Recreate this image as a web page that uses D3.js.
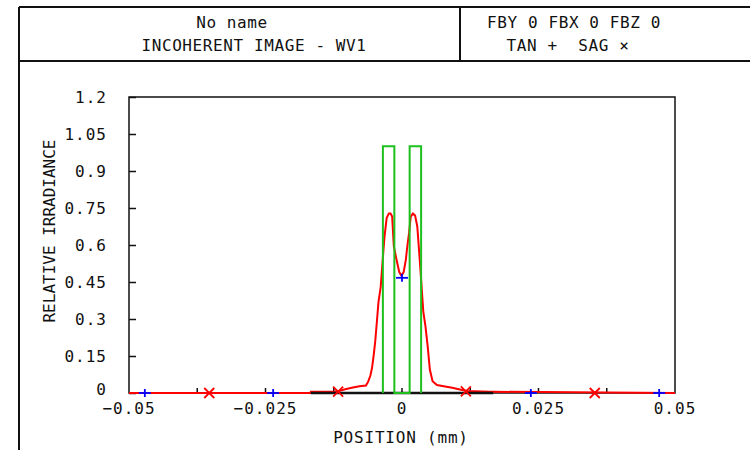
<!DOCTYPE html>
<html>
<head>
<meta charset="utf-8">
<script src="https://cdn.jsdelivr.net/npm/d3@7"></script>
<style>
  body { margin: 0; background: #fff; }
  text { font-family: "DejaVu Sans Mono", monospace; fill: #111; }
</style>
</head>
<body>
<div id="chart"></div>
<script>
// header texts
var titleLines = ["No name", "INCOHERENT IMAGE - WV1"];
var fieldLines = ["FBY 0 FBX 0 FBZ 0", "TAN +  SAG \u00d7"];

// axis ticks
var xLabelTicks = [-0.05, -0.025, 0, 0.025, 0.05];
var xMarkTicks = [-0.0375, -0.025, -0.0125, 0, 0.0125, 0.025, 0.0375];
var yTicks = [0, 0.15, 0.3, 0.45, 0.6, 0.75, 0.9, 1.05, 1.2];

// red irradiance curve (position in mm, relative irradiance)
var irradianceX = [-0.05, -0.0168, -0.0167, -0.0126, -0.0114, -0.0104, -0.0090, -0.0078, -0.0066, -0.0062,
  -0.0058, -0.0055, -0.0052, -0.0049, -0.0046, -0.0043, -0.0039, -0.0035, -0.0032, -0.0028,
  -0.0024, -0.0021, -0.0018, -0.0015, -0.0010, -0.0005, -0.0001, 0.0003, 0.0007, 0.0010,
  0.0013, 0.0016, 0.0020, 0.0024, 0.0028, 0.0032, 0.0035, 0.0039, 0.0043, 0.0047,
  0.0051, 0.0056, 0.0064, 0.0079, 0.0092, 0.0106, 0.0119, 0.0161, 0.0167, 0.05];
var irradianceY = [0, 0, 0.005, 0.005, 0.009, 0.015, 0.022, 0.027, 0.03, 0.046,
  0.07, 0.10, 0.15, 0.21, 0.29, 0.37, 0.43, 0.55, 0.635, 0.71,
  0.728, 0.728, 0.715, 0.595, 0.54, 0.49, 0.475, 0.49, 0.54, 0.60,
  0.65, 0.715, 0.728, 0.72, 0.675, 0.555, 0.46, 0.33, 0.27, 0.19,
  0.095, 0.048, 0.032, 0.026, 0.021, 0.014, 0.008, 0.005, 0.005, 0];

// green object (two slits)
var objectX = [-0.0035, -0.0035, -0.0014, -0.0014, 0.0014, 0.0014, 0.0035, 0.0035];
var objectY = [0, 1, 1, 0, 0, 1, 1, 0];

// black baseline segment
var baseX = [-0.0167, 0.0167];

// markers
var tanX = [-0.0471, -0.0236, 0, 0.0236, 0.0471];
var tanY = [0, 0, 0.467, 0, 0];
var sagX = [-0.0353, -0.0117, 0.0117, 0.0353];
var sagY = [0, 0.006, 0.007, 0];

var W = 750, H = 450;
var plot = { left: 129, right: 675, top: 97, bottom: 393 };

var svg = d3.select("#chart").append("svg")
  .attr("width", W)
  .attr("height", H);

// frame + header
var frame = svg.append("g")
  .attr("stroke", "#111")
  .attr("stroke-width", 2);
frame.append("line").attr("x1", 19).attr("y1", 7).attr("x2", 19).attr("y2", H);
frame.append("line").attr("x1", 19).attr("y1", 7).attr("x2", W).attr("y2", 7);
frame.append("line").attr("x1", 19).attr("y1", 61).attr("x2", W).attr("y2", 61);
frame.append("line").attr("x1", 460).attr("y1", 7).attr("x2", 460).attr("y2", 61);

var headerLeft = [232, 254];
var headerRight = [574, 568];
titleLines.forEach(function(t, i) {
  svg.append("text")
    .attr("x", headerLeft[i]).attr("y", 28 + i * 23)
    .attr("text-anchor", "middle")
    .attr("font-size", 16)
    .attr("letter-spacing", 0.6)
    .text(t);
});
fieldLines.forEach(function(t, i) {
  svg.append("text")
    .attr("x", headerRight[i]).attr("y", 28 + i * 23)
    .attr("text-anchor", "middle")
    .attr("font-size", 16)
    .attr("letter-spacing", 0.6)
    .style("white-space", "pre")
    .text(t);
});

// scales
var x = d3.scaleLinear().domain([-0.05, 0.05]).range([plot.left, plot.right]);
var y = d3.scaleLinear().domain([0, 1.2]).range([plot.bottom, plot.top]);

// plot box
svg.append("rect")
  .attr("x", plot.left).attr("y", plot.top)
  .attr("width", plot.right - plot.left)
  .attr("height", plot.bottom - plot.top)
  .attr("fill", "none")
  .attr("stroke", "#111")
  .attr("stroke-width", 1.5);

// y ticks (inside) and labels
var yAxis = d3.axisLeft(y)
  .tickValues(yTicks)
  .tickSize(-7)
  .tickPadding(22)
  .tickFormat(function(d) { return d3.format("")(+d.toFixed(2)); });
var gy = svg.append("g")
  .attr("transform", "translate(" + plot.left + ",0)")
  .call(yAxis);
gy.select(".domain").remove();
gy.selectAll("line").attr("stroke", "#111").attr("stroke-width", 1.5);
gy.selectAll("text")
  .attr("font-family", "DejaVu Sans Mono, monospace")
  .attr("font-size", 16)
  .attr("letter-spacing", 1)
  .attr("fill", "#111");
// the zero label sits a little higher, just above the x labels
gy.selectAll(".tick text")
  .filter(function(d) { return d === 0; })
  .attr("dy", "0.1em");

// x tick marks
svg.append("g").selectAll("line")
  .data(xMarkTicks)
  .enter().append("line")
  .attr("x1", function(d) { return x(d); })
  .attr("x2", function(d) { return x(d); })
  .attr("y1", plot.bottom)
  .attr("y2", plot.bottom - 5)
  .attr("stroke", "#111")
  .attr("stroke-width", 1.5);

// x labels
svg.append("g").selectAll("text")
  .data(xLabelTicks)
  .enter().append("text")
  .attr("x", function(d) { return x(d); })
  .attr("y", 414)
  .attr("text-anchor", "middle")
  .attr("font-size", 16)
  .attr("letter-spacing", 1)
  .text(function(d) { return d === 0 ? "0" : (d < 0 ? "\u2212" : "") + Math.abs(d); });

// axis titles
svg.append("text")
  .attr("x", 401).attr("y", 443)
  .attr("text-anchor", "middle")
  .attr("font-size", 16)
  .attr("letter-spacing", 0.8)
  .text("POSITION (mm)");

svg.append("text")
  .attr("transform", "translate(55,231) rotate(-90)")
  .attr("text-anchor", "middle")
  .attr("font-size", 16)
  .text("RELATIVE IRRADIANCE");

// data
var line = d3.line()
  .x(function(d) { return x(d[0]); })
  .y(function(d) { return y(d[1]); });

var objectData = objectX.map(function(v, i) { return [v, objectY[i]]; });
var curveData = irradianceX.map(function(v, i) { return [v, irradianceY[i]]; });

svg.append("path")
  .datum(curveData)
  .attr("fill", "none")
  .attr("stroke", "#ff0000")
  .attr("stroke-width", 2)
  .attr("d", line);

svg.append("path")
  .datum(baseX.map(function(v) { return [v, 0]; }))
  .attr("fill", "none")
  .attr("stroke", "#111")
  .attr("stroke-width", 2.4)
  .attr("d", line);

svg.append("path")
  .datum(objectData)
  .attr("fill", "none")
  .attr("stroke", "#1ec01e")
  .attr("stroke-width", 2)
  .attr("d", line);

// TAN markers (+)
var tan = svg.append("g").attr("stroke", "#0000ff").attr("stroke-width", 1.8);
tanX.forEach(function(v, i) {
  var cx = x(v), cy = y(tanY[i]);
  tan.append("line").attr("x1", cx - 6).attr("x2", cx + 6).attr("y1", cy).attr("y2", cy);
  tan.append("line").attr("x1", cx).attr("x2", cx).attr("y1", cy - 4).attr("y2", cy + 4);
});

// SAG markers (x)
var sag = svg.append("g").attr("stroke", "#ff0000").attr("stroke-width", 1.8);
sagX.forEach(function(v, i) {
  var cx = x(v), cy = y(sagY[i]);
  sag.append("line").attr("x1", cx - 5).attr("x2", cx + 5).attr("y1", cy - 5).attr("y2", cy + 5);
  sag.append("line").attr("x1", cx - 5).attr("x2", cx + 5).attr("y1", cy + 5).attr("y2", cy - 5);
});
</script>
</body>
</html>
